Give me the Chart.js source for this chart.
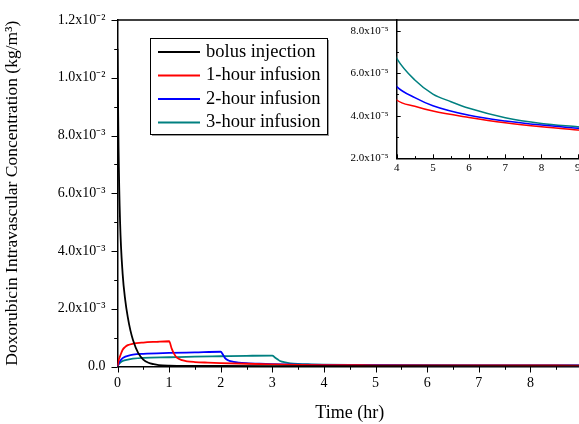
<!DOCTYPE html>
<html>
<head>
<meta charset="utf-8">
<script src="https://cdn.jsdelivr.net/npm/chart.js@4.4.1/dist/chart.umd.min.js"></script>
<style>
  html, body { margin: 0; padding: 0; background: #fff; overflow: hidden; width: 579px; height: 424px; }
  #wrap { position: relative; width: 620px; height: 424px; }
  #main { position: absolute; left: 0; top: 0; }
  #inset { position: absolute; left: 340px; top: 0; }
</style>
</head>
<body>
<div id="wrap">
  <canvas id="main" width="620" height="424"></canvas>
  <canvas id="inset" width="260" height="185"></canvas>
</div>
<script>
/* ==================== DATA ==================== */

const seriesNames = ['bolus injection', '1-hour infusion', '2-hour infusion', '3-hour infusion'];
const seriesColors = ['#000000', '#ff0000', '#0000ff', '#008080'];

const bolusTime = [0, 0.02, 0.05, 0.1, 0.15, 0.2, 0.25, 0.3, 0.4, 0.5, 0.6, 0.7, 0.8, 1, 1.5, 2, 3, 4, 6, 9.5];
const bolusConc = [1.10e-2, 7.6e-3, 5.0e-3, 3.2e-3, 2.3e-3, 1.7e-3, 1.25e-3, 0.92e-3, 0.47e-3, 0.24e-3, 0.13e-3,
                   0.08e-3, 0.05e-3, 0.03e-3, 0.02e-3, 0.017e-3, 0.013e-3, 0.011e-3, 0.009e-3, 0.007e-3];

const oneHrTime = [0, 0.02, 0.05, 0.1, 0.15, 0.2, 0.3, 0.5, 0.75, 1.0, 1.05, 1.1, 1.15, 1.25, 1.35, 1.5, 1.75, 2,
                   2.5, 3, 3.5, 4, 4.5, 5, 6, 7, 8, 9, 9.5];
const oneHrConc = [0, 0.20e-3, 0.36e-3, 0.58e-3, 0.68e-3, 0.74e-3, 0.79e-3, 0.83e-3, 0.855e-3, 0.875e-3, 0.62e-3,
                   0.43e-3, 0.31e-3, 0.22e-3, 0.18e-3, 0.155e-3, 0.135e-3, 0.12e-3, 0.095e-3, 0.075e-3, 0.058e-3,
                   4.74e-5, 4.45e-5, 4.22e-5, 3.92e-5, 3.67e-5, 3.48e-5, 3.33e-5, 3.26e-5];

const twoHrTime = [0, 0.02, 0.05, 0.1, 0.15, 0.2, 0.3, 0.5, 1.0, 1.5, 2.0, 2.04, 2.08, 2.15, 2.25, 2.35, 2.5, 2.75,
                   3, 3.5, 4, 4.5, 5, 6, 7, 8, 9, 9.5];
const twoHrConc = [0, 0.10e-3, 0.19e-3, 0.29e-3, 0.34e-3, 0.37e-3, 0.41e-3, 0.44e-3, 0.47e-3, 0.49e-3, 0.51e-3,
                   0.42e-3, 0.30e-3, 0.21e-3, 0.16e-3, 0.135e-3, 0.115e-3, 0.095e-3, 0.082e-3, 0.065e-3,
                   5.37e-5, 4.85e-5, 4.47e-5, 4.02e-5, 3.75e-5, 3.56e-5, 3.41e-5, 3.35e-5];

const threeHrTime = [0, 0.02, 0.05, 0.1, 0.2, 0.3, 0.5, 1, 1.5, 2, 2.5, 3, 3.05, 3.1, 3.15, 3.25, 3.35, 3.5, 3.75,
                     4, 4.5, 5, 5.5, 6, 7, 8, 9, 9.5];
const threeHrConc = [0, 0.07e-3, 0.13e-3, 0.19e-3, 0.24e-3, 0.27e-3, 0.30e-3, 0.32e-3, 0.34e-3, 0.355e-3, 0.37e-3,
                     0.38e-3, 0.31e-3, 0.25e-3, 0.19e-3, 0.14e-3, 0.11e-3, 0.09e-3, 0.076e-3,
                     6.70e-5, 5.68e-5, 5.02e-5, 4.66e-5, 4.35e-5, 3.91e-5, 3.64e-5, 3.48e-5, 3.40e-5];

const mainYTicks = [0, 2e-3, 4e-3, 6e-3, 8e-3, 1.0e-2, 1.2e-2];
const mainYLabels = ['0.0', '2.0x10⁻³', '4.0x10⁻³', '6.0x10⁻³', '8.0x10⁻³', '1.0x10⁻²', '1.2x10⁻²'];
const insetYTicks = [2e-5, 4e-5, 6e-5, 8e-5];
const insetYLabels = ['2.0x10⁻⁵', '4.0x10⁻⁵', '6.0x10⁻⁵', '8.0x10⁻⁵'];

/* ==================== HELPERS ==================== */

const FONT = "'Liberation Serif', 'Times New Roman', serif";

function toPoints(times, values) {
    return times.map((t, i) => ({ x: t, y: values[i] }));
}

function buildDatasets(width) {
    const pairs = [[bolusTime, bolusConc], [oneHrTime, oneHrConc], [twoHrTime, twoHrConc], [threeHrTime, threeHrConc]];
    return pairs.map((p, i) => ({
        label: seriesNames[i],
        data: toPoints(p[0], p[1]),
        borderColor: seriesColors[i],
        borderWidth: width,
        pointRadius: 0,
        fill: false,
        cubicInterpolationMode: 'monotone'
    }));
}

// mixes major + minor tick values so the plugin can draw both
function tickSet(min, max, step) {
    const out = [];
    for (let v = min; v <= max + step * 1e-6; v += step) out.push({ value: +v.toPrecision(10) });
    return out;
}

function labelFor(values, labels, v) {
    const i = values.findIndex(t => Math.abs(t - v) < Math.abs(values[1] - values[0]) * 1e-3);
    return i >= 0 ? labels[i] : '';
}

// hand-drawn tick marks: majors long, minors short
const tickMarks = {
    id: 'tickMarks',
    afterDraw(chart, args, opts) {
        const ctx = chart.ctx;
        ctx.save();
        ctx.strokeStyle = '#000';
        ctx.lineWidth = opts.width || 1;
        Object.values(chart.scales).forEach(scale => {
            const o = opts[scale.id];
            if (!o) return;
            scale.ticks.forEach(t => {
                const r = t.value / o.major;
                const major = Math.abs(r - Math.round(r)) < 1e-6;
                const len = major ? o.len : o.len * 0.55;
                const p = Math.round(scale.getPixelForValue(t.value)) + 0.5;
                ctx.beginPath();
                if (scale.isHorizontal()) {
                    const y = chart.chartArea.bottom;
                    ctx.moveTo(p, y);
                    ctx.lineTo(p, y + o.dir * len);
                } else {
                    const x = chart.chartArea.left;
                    ctx.moveTo(x, p);
                    ctx.lineTo(x - o.dir * len, p);
                }
                ctx.stroke();
            });
        });
        if (opts.topLine) {
            const a = chart.chartArea;
            ctx.lineWidth = 1.5;
            ctx.beginPath();
            ctx.moveTo(a.left, a.top);
            ctx.lineTo(a.right + 40, a.top);
            ctx.stroke();
        }
        ctx.restore();
    }
};

// boxed legend inside the plot
const boxLegend = {
    id: 'boxLegend',
    afterDraw(chart, args, opts) {
        if (!opts.display) return;
        const ctx = chart.ctx;
        const b = opts.box;
        ctx.save();
        ctx.fillStyle = '#9a9a9a';
        ctx.fillRect(b.x + 2, b.y + 2, b.w, b.h);
        ctx.fillStyle = '#fff';
        ctx.fillRect(b.x, b.y, b.w, b.h);
        ctx.strokeStyle = '#000';
        ctx.lineWidth = 1;
        ctx.strokeRect(b.x + 0.5, b.y + 0.5, b.w, b.h);
        ctx.font = opts.font;
        ctx.textBaseline = 'middle';
        ctx.fillStyle = '#000';
        chart.data.datasets.forEach((ds, i) => {
            const y = b.y + opts.firstRow + i * opts.rowGap;
            ctx.strokeStyle = ds.borderColor;
            ctx.lineWidth = 2;
            ctx.beginPath();
            ctx.moveTo(b.x + 8, y);
            ctx.lineTo(b.x + 50, y);
            ctx.stroke();
            ctx.fillText(ds.label, b.x + 56, y);
        });
        ctx.restore();
    }
};

/* ==================== MAIN CHART ==================== */

new Chart(document.getElementById('main'), {
    type: 'line',
    data: { datasets: buildDatasets(1.8) },
    options: {
        responsive: false,
        animation: false,
        events: [],
        layout: { padding: { left: 2, right: 38, top: 20, bottom: 0 } },
        plugins: {
            legend: { display: false },
            tooltip: { enabled: false },
            tickMarks: { x: { major: 1, len: 6, dir: 1 }, y: { major: 2e-3, len: 6, dir: 1 }, topLine: true },
            boxLegend: {
                display: true,
                box: { x: 150, y: 38, w: 177, h: 96 },
                firstRow: 14, rowGap: 23.5,
                font: '18.5px ' + FONT
            }
        },
        scales: {
            x: {
                type: 'linear',
                min: 0, max: 9,
                afterFit: s => { s.height = 57.5; },
                afterBuildTicks: s => { s.ticks = tickSet(0, 9, 0.5); },
                grid: { display: false },
                border: { display: true, color: '#000', width: 1.5 },
                ticks: {
                    color: '#000', padding: 0, maxRotation: 0, autoSkip: false,
                    font: { family: FONT, size: 14 },
                    callback: v => Number.isInteger(v) ? String(v) : ''
                },
                title: {
                    display: true, text: 'Time (hr)', color: '#000',
                    font: { family: FONT, size: 18 }, padding: { top: 0, bottom: 0 }
                }
            },
            y: {
                type: 'linear',
                min: 0, max: 1.2e-2,
                afterFit: s => { s.width = 115.5; },
                afterBuildTicks: s => { s.ticks = tickSet(0, 1.2e-2, 1e-3); },
                grid: { display: false },
                border: { display: true, color: '#000', width: 1.5 },
                ticks: {
                    color: '#000', padding: 4, autoSkip: false,
                    font: { family: FONT, size: 14 },
                    callback: v => labelFor(mainYTicks, mainYLabels, v)
                },
                title: {
                    display: true, text: 'Doxorubicin Intravascular Concentration (kg/m³)', color: '#000',
                    font: { family: FONT, size: 17.5 }, padding: { top: 0, bottom: 0 }
                }
            }
        }
    },
    plugins: [tickMarks, boxLegend]
});

/* ==================== INSET CHART ==================== */

new Chart(document.getElementById('inset'), {
    type: 'line',
    data: { datasets: buildDatasets(1.5).slice(1) },
    options: {
        responsive: false,
        animation: false,
        events: [],
        layout: { padding: { left: 2, right: 18.7, top: 20, bottom: 2 } },
        plugins: {
            legend: { display: false },
            tooltip: { enabled: false },
            tickMarks: { x: { major: 1, len: 4, dir: -1 }, y: { major: 2e-5, len: 4, dir: -1 } }
        },
        scales: {
            x: {
                type: 'linear',
                min: 4, max: 9.1,
                afterFit: s => { s.height = 24.7; },
                afterBuildTicks: s => { s.ticks = tickSet(4, 9, 0.5); },
                grid: { display: false },
                border: { display: true, color: '#000', width: 1.5 },
                ticks: {
                    color: '#000', padding: -5, maxRotation: 0, autoSkip: false,
                    font: { family: FONT, size: 11 },
                    callback: v => Number.isInteger(v) ? String(v) : ''
                }
            },
            y: {
                type: 'linear',
                min: 2e-5, max: 8.5e-5,
                afterFit: s => { s.width = 54.7; },
                afterBuildTicks: s => { s.ticks = tickSet(2e-5, 8e-5, 1e-5); },
                grid: { display: false },
                border: { display: true, color: '#000', width: 1.5 },
                ticks: {
                    color: '#000', padding: 0, autoSkip: false,
                    font: { family: FONT, size: 11 },
                    callback: v => labelFor(insetYTicks, insetYLabels, v)
                }
            }
        }
    },
    plugins: [tickMarks]
});
</script>
</body>
</html>
